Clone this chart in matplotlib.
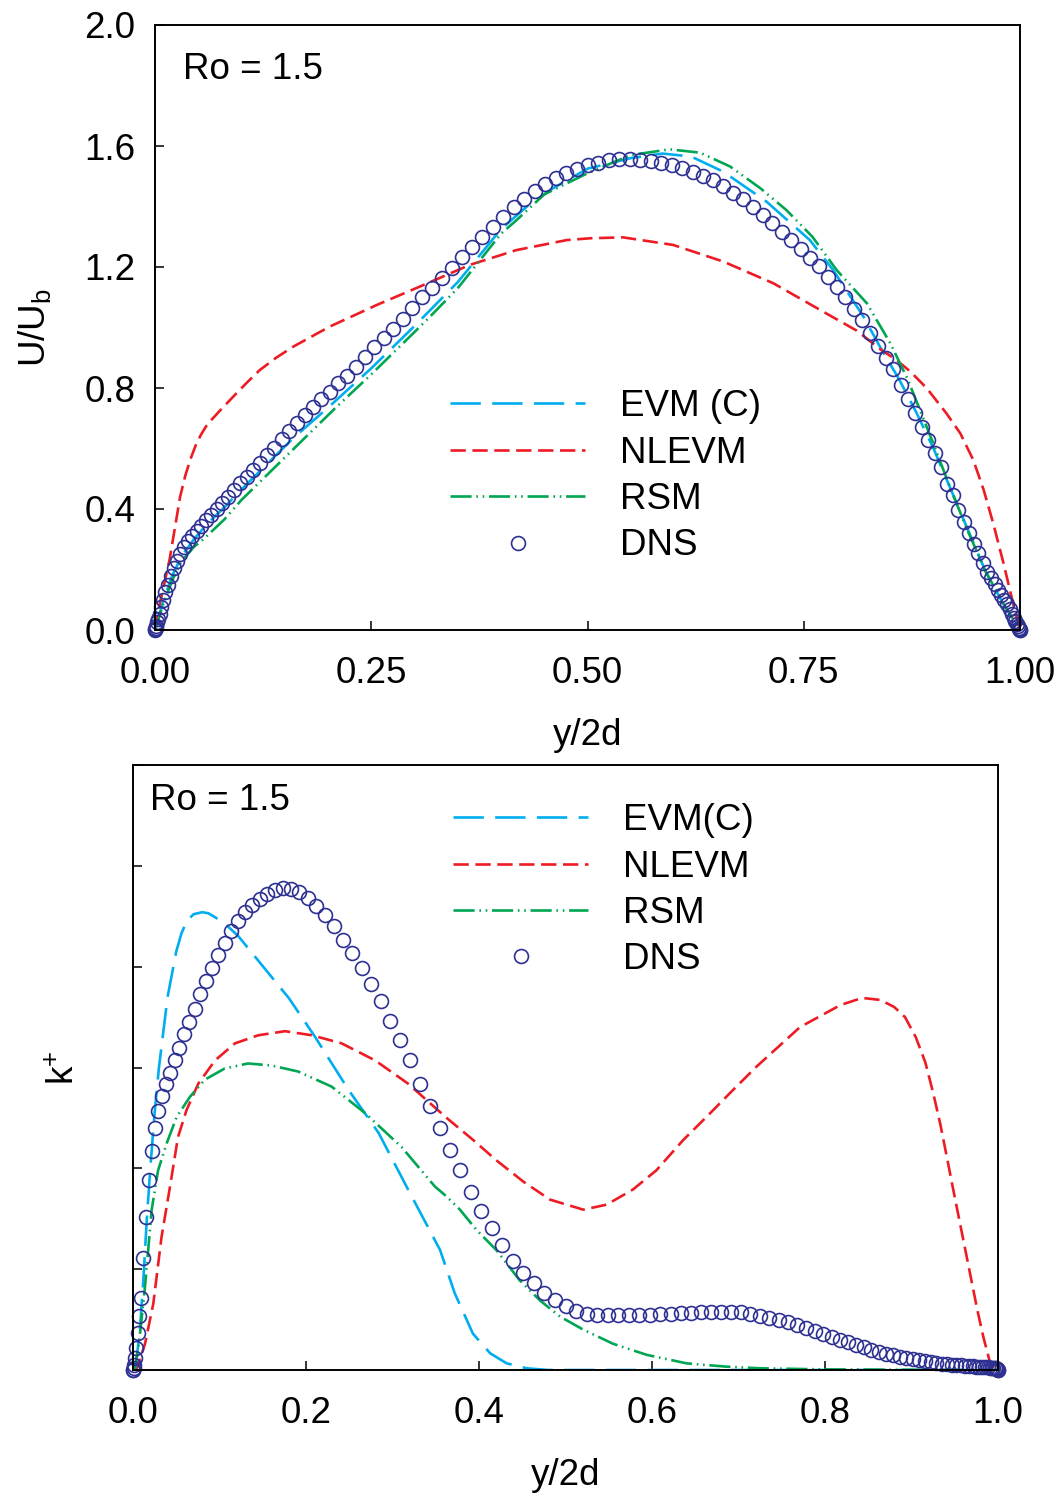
import numpy as np
import matplotlib
matplotlib.use("Agg")
import matplotlib.pyplot as plt
from matplotlib.lines import Line2D

plt.rcParams['font.family'] = ['Liberation Sans', 'DejaVu Sans']
plt.rcParams['mathtext.default'] = 'regular'

# DNS grid points (y/2d), read from the circle positions
dns_x = [0.0000, 0.0002, 0.0006, 0.0014, 0.0024, 0.0038, 0.0054, 0.0074, 0.0096, 0.0121,
         0.0150, 0.0181, 0.0215, 0.0252, 0.0292, 0.0335, 0.0381, 0.0429, 0.0480, 0.0534,
         0.0590, 0.0650, 0.0711, 0.0776, 0.0843, 0.0912, 0.0984, 0.1058, 0.1135, 0.1214,
         0.1295, 0.1379, 0.1464, 0.1552, 0.1642, 0.1734, 0.1828, 0.1924, 0.2022, 0.2121,
         0.2222, 0.2325, 0.2429, 0.2536, 0.2643, 0.2752, 0.2862, 0.2974, 0.3087, 0.3201,
         0.3316, 0.3432, 0.3549, 0.3666, 0.3785, 0.3904, 0.4025, 0.4145, 0.4266, 0.4388,
         0.4510, 0.4632, 0.4755, 0.4877, 0.5000, 0.5123, 0.5245, 0.5368, 0.5490, 0.5612,
         0.5734, 0.5855, 0.5975, 0.6096, 0.6215, 0.6334, 0.6451, 0.6568, 0.6684, 0.6799,
         0.6913, 0.7026, 0.7138, 0.7248, 0.7357, 0.7464, 0.7571, 0.7675, 0.7778, 0.7879,
         0.7978, 0.8076, 0.8172, 0.8266, 0.8358, 0.8448, 0.8536, 0.8621, 0.8705, 0.8786,
         0.8865, 0.8942, 0.9016, 0.9088, 0.9157, 0.9224, 0.9289, 0.9350, 0.9410, 0.9466,
         0.9520, 0.9571, 0.9619, 0.9665, 0.9708, 0.9748, 0.9785, 0.9819, 0.9850, 0.9879,
         0.9904, 0.9926, 0.9946, 0.9962, 0.9976, 0.9986, 0.9994, 0.9998, 1.0000]

# U/Ub, DNS
dns_u = [0.000, 0.002, 0.006, 0.014, 0.025, 0.038, 0.052, 0.075, 0.099, 0.125,
         0.150, 0.180, 0.205, 0.228, 0.252, 0.274, 0.293, 0.310, 0.327, 0.344,
         0.362, 0.380, 0.400, 0.420, 0.440, 0.462, 0.485, 0.507, 0.530, 0.553,
         0.578, 0.603, 0.630, 0.657, 0.684, 0.711, 0.737, 0.762, 0.788, 0.815,
         0.840, 0.870, 0.903, 0.935, 0.966, 0.996, 1.029, 1.066, 1.100, 1.130,
         1.163, 1.198, 1.234, 1.266, 1.298, 1.331, 1.364, 1.397, 1.425, 1.451,
         1.474, 1.493, 1.511, 1.525, 1.537, 1.545, 1.553, 1.556, 1.557, 1.555,
         1.550, 1.543, 1.536, 1.526, 1.515, 1.502, 1.488, 1.468, 1.446, 1.424,
         1.400, 1.373, 1.345, 1.316, 1.288, 1.260, 1.229, 1.202, 1.168, 1.135,
         1.102, 1.061, 1.024, 0.983, 0.940, 0.900, 0.862, 0.809, 0.763, 0.716,
         0.670, 0.627, 0.585, 0.538, 0.484, 0.445, 0.397, 0.356, 0.320, 0.283,
         0.254, 0.223, 0.193, 0.171, 0.152, 0.133, 0.117, 0.100, 0.085, 0.068,
         0.054, 0.041, 0.030, 0.020, 0.013, 0.008, 0.004, 0.001, 0.000]

# k+, DNS
dns_k = [0.00, 0.00, 0.02, 0.05, 0.12, 0.22, 0.37, 0.54, 0.71, 1.11,
         1.52, 1.88, 2.17, 2.40, 2.57, 2.72, 2.84, 2.95, 3.07, 3.19,
         3.33, 3.45, 3.58, 3.73, 3.86, 3.99, 4.12, 4.23, 4.35, 4.45,
         4.54, 4.61, 4.67, 4.72, 4.76, 4.78, 4.77, 4.74, 4.68, 4.60,
         4.51, 4.40, 4.26, 4.14, 3.99, 3.83, 3.66, 3.46, 3.27, 3.07,
         2.84, 2.62, 2.40, 2.18, 1.98, 1.77, 1.58, 1.41, 1.24, 1.08,
         0.96, 0.86, 0.76, 0.69, 0.63, 0.59, 0.56, 0.55, 0.545, 0.545,
         0.545, 0.55, 0.55, 0.555, 0.56, 0.565, 0.57, 0.575, 0.58, 0.58,
         0.58, 0.575, 0.56, 0.54, 0.52, 0.50, 0.475, 0.445, 0.415, 0.385,
         0.36, 0.33, 0.30, 0.275, 0.25, 0.225, 0.20, 0.18, 0.16, 0.145,
         0.13, 0.115, 0.105, 0.095, 0.085, 0.077, 0.07, 0.064, 0.058, 0.053,
         0.049, 0.045, 0.042, 0.039, 0.036, 0.034, 0.031, 0.029, 0.027, 0.025,
         0.023, 0.021, 0.019, 0.017, 0.015, 0.012, 0.008, 0.004, 0.0]

# top panel: model velocity profiles
evm_u_x = [0, .005, .01, .02, .03, .045, .06, .08, .10, .13, .16, .20, .25, .30, .35, .40, .43,
           .46, .50, .55, .587, .62, .657, .707, .757, .784, .819, .838, .86, .88, .90, .92,
           .94, .96, .98, 1.0]
evm_u = [0, .05, .10, .18, .24, .30, .35, .405, .465, .55, .635, .735, .865, 1.005, 1.15, 1.325,
         1.40, 1.46, 1.525, 1.56, 1.575, 1.565, 1.515, 1.416, 1.289, 1.19, 1.036, .937, .83,
         .72, .60, .465, .33, .195, .09, 0]

nlevm_u_x = [0, .0058, .017, .029, .035, .041, .047, .053, .059, .066, .074, .084, .094, .107,
             .121, .140, .160, .202, .256, .310, .364, .418, .476, .503, .541, .599, .657, .715,
             .769, .811, .84, .856, .873, .892, .915, .931, .946, .958, .969, .981, .992, 1.0]
nlevm_u = [0, .09, .235, .44, .51, .565, .61, .645, .673, .697, .722, .752, .782, .82, .859,
           .90, .937, 1.003, 1.074, 1.140, 1.207, 1.256, 1.289, 1.295, 1.298, 1.273, 1.218,
           1.146, 1.058, .99, .925, .895, .855, .80, .716, .65, .562, .463, .353, .22, .088, 0]

rsm_u_x = [0, .005, .01, .02, .03, .045, .056, .08, .10, .15, .21, .25, .30, .318, .35, .40,
           .418, .45, .50, .55, .595, .63, .665, .70, .73, .76, .788, .823, .85, .87, .90, .92,
           .94, .96, .98, 1.0]
rsm_u = [0, .045, .09, .165, .225, .275, .30, .365, .43, .57, .738, .845, .985, 1.036, 1.13,
         1.31, 1.355, 1.44, 1.51, 1.57, 1.589, 1.578, 1.532, 1.46, 1.388, 1.30, 1.19, 1.08,
         .948, .83, .615, .465, .325, .195, .09, 0]

# bottom panel: model k+ profiles
evm_k_x = [0, .004, .008, .012, .016, .02, .025, .03, .04, .05, .056, .062, .07, .08, .087,
           .093, .106, .122, .141, .18, .21, .249, .284, .318, .355, .372, .393, .413, .432,
           .455, .48, 1.0]
evm_k = [0, .1, .4, .9, 1.5, 2.0, 2.55, 3.0, 3.7, 4.15, 4.33, 4.45, 4.52, 4.54, 4.53, 4.50,
         4.43, 4.30, 4.10, 3.69, 3.31, 2.78, 2.35, 1.79, 1.19, .76, .36, .165, .066, .017, 0, 0]

nlevm_k_x = [0, .004, .0139, .0235, .033, .0428, .052, .062, .0755, .0948, .118, .145, .1757,
             .2066, .241, .28, .318, .3626, .3934, .42, .451, .482, .5206, .5476, .578, .605,
             .636, .663, .694, .721, .771, .818, .843, .864, .88, .8925, .905, .916, .925,
             .933, .94, .948, .955, .962, .969, .976, .983, .99, .995, 1.0]
nlevm_k = [0, 0, .26, .66, 1.32, 1.82, 2.31, 2.58, 2.84, 3.07, 3.24, 3.32, 3.36, 3.32, 3.24,
           3.07, 2.84, 2.50, 2.28, 2.08, 1.87, 1.69, 1.59, 1.64, 1.79, 1.98, 2.28, 2.51, 2.78,
           3.01, 3.40, 3.62, 3.69, 3.67, 3.60, 3.50, 3.30, 3.05, 2.75, 2.45, 2.15, 1.80, 1.50,
           1.20, .90, .60, .33, .10, .02, 0]

rsm_k_x = [0, .0023, .0081, .0139, .0216, .029, .039, .0505, .0659, .0832, .106, .133, .160,
           .191, .2297, .268, .3106, .349, .3626, .378, .397, .42, .447, .4705, .4936, .5206,
           .555, .594, .64, .686, .725, .80, .90, 1.0]
rsm_k = [0, 0, .36, .83, 1.59, 1.98, 2.25, 2.51, 2.71, 2.88, 2.99, 3.04, 3.02, 2.96, 2.81,
         2.55, 2.21, 1.82, 1.72, 1.59, 1.39, 1.19, .89, .69, .53, .40, .26, .15, .066, .033,
         .017, .006, .002, 0]

top_xticks = [0.0, 0.25, 0.5, 0.75, 1.0]
top_xlabels = ['0.00', '0.25', '0.50', '0.75', '1.00']
top_yticks = [0.0, 0.4, 0.8, 1.2, 1.6, 2.0]
top_ylabels = ['0.0', '0.4', '0.8', '1.2', '1.6', '2.0']
bot_xticks = [0.0, 0.2, 0.4, 0.6, 0.8, 1.0]
bot_xlabels = ['0.0', '0.2', '0.4', '0.6', '0.8', '1.0']
bot_yticks = [0, 1, 2, 3, 4, 5, 6]

labels_top = ['EVM (C)', 'NLEVM', 'RSM', 'DNS']
labels_bot = ['EVM(C)', 'NLEVM', 'RSM', 'DNS']

c_evm = '#00AEEF'
c_nlevm = '#ED1C24'
c_rsm = '#00A651'
c_dns = '#2E3192'
ls_evm = (0, (11.5, 4.3))
ls_nlevm = (0, (5.8, 2.5))
ls_rsm = (0, (8, 1.8, 0.6, 1.8, 0.6, 1.8))
lw = 1.9
ms = 10
fs = 26.5

fig = plt.figure(figsize=(10.63, 14.96), dpi=100)
ax1 = fig.add_axes([155/1063, 1 - 630/1496, 865/1063, 605/1496])
ax2 = fig.add_axes([133/1063, 1 - 1370/1496, 865/1063, 605/1496])


def style(ax):
    for s in ax.spines.values():
        s.set_linewidth(1.4)
    ax.tick_params(direction='in', length=6.5, width=1.1, top=False, right=False,
                   labelsize=fs, pad=19)
    ax.tick_params(axis='y', pad=14)


def add_curves(ax, xe, ye, xn, yn, xr, yr, xd, yd):
    ax.plot(xe, ye, color=c_evm, lw=lw, ls=ls_evm)
    ax.plot(xn, yn, color=c_nlevm, lw=lw, ls=ls_nlevm)
    ax.plot(xr, yr, color=c_rsm, lw=lw, ls=ls_rsm)
    ax.plot(xd, yd, ls='none', marker='o', ms=ms, mfc='none', mec=c_dns, mew=1.2,
            clip_on=False)


def add_legend(ax, labels, anchor):
    handles = [Line2D([], [], color=c_evm, lw=lw, ls=ls_evm),
               Line2D([], [], color=c_nlevm, lw=lw, ls=ls_nlevm),
               Line2D([], [], color=c_rsm, lw=lw, ls=ls_rsm),
               Line2D([], [], ls='none', marker='o', ms=ms, mfc='none', mec=c_dns, mew=1.2)]
    ax.legend(handles, labels, loc='upper left', bbox_to_anchor=anchor, frameon=False,
              fontsize=fs, handlelength=3.67, handletextpad=0.95, labelspacing=0.31,
              borderpad=0, borderaxespad=0)


# top: mean velocity
add_curves(ax1, evm_u_x, evm_u, nlevm_u_x, nlevm_u, rsm_u_x, rsm_u, dns_x, dns_u)
ax1.set_xlim(0, 1)
ax1.set_ylim(0, 2)
ax1.set_xticks(top_xticks, top_xlabels)
ax1.set_yticks(top_yticks, top_ylabels)
style(ax1)
ax1.set_xlabel('y/2d', fontsize=fs)
ax1.set_ylabel(r'U/U$_{b}$', fontsize=fs)
ax1.xaxis.set_label_coords(0.5, -0.145)
ax1.yaxis.set_label_coords(-0.139, 0.5)
ax1.yaxis.label.set_va('center')
ax1.text(0.032, 0.926, 'Ro = 1.5', transform=ax1.transAxes, fontsize=fs, va='center')
add_legend(ax1, labels_top, (0.341, 0.398))

# bottom: turbulent kinetic energy
add_curves(ax2, evm_k_x, evm_k, nlevm_k_x, nlevm_k, rsm_k_x, rsm_k, dns_x, dns_k)
ax2.set_xlim(0, 1)
ax2.set_ylim(0, 6)
ax2.set_xticks(bot_xticks, bot_xlabels)
ax2.set_yticks(bot_yticks, [''] * len(bot_yticks))
style(ax2)
ax2.set_xlabel('y/2d', fontsize=fs)
ax2.set_ylabel(r'k$^{+}$', fontsize=fs)
ax2.xaxis.set_label_coords(0.5, -0.145)
ax2.yaxis.set_label_coords(-0.079, 0.5)
ax2.yaxis.label.set_va('center')
ax2.text(0.0197, 0.942, 'Ro = 1.5', transform=ax2.transAxes, fontsize=fs, va='center')
add_legend(ax2, labels_bot, (0.370, 0.937))

fig.savefig('out.png', dpi=100)
